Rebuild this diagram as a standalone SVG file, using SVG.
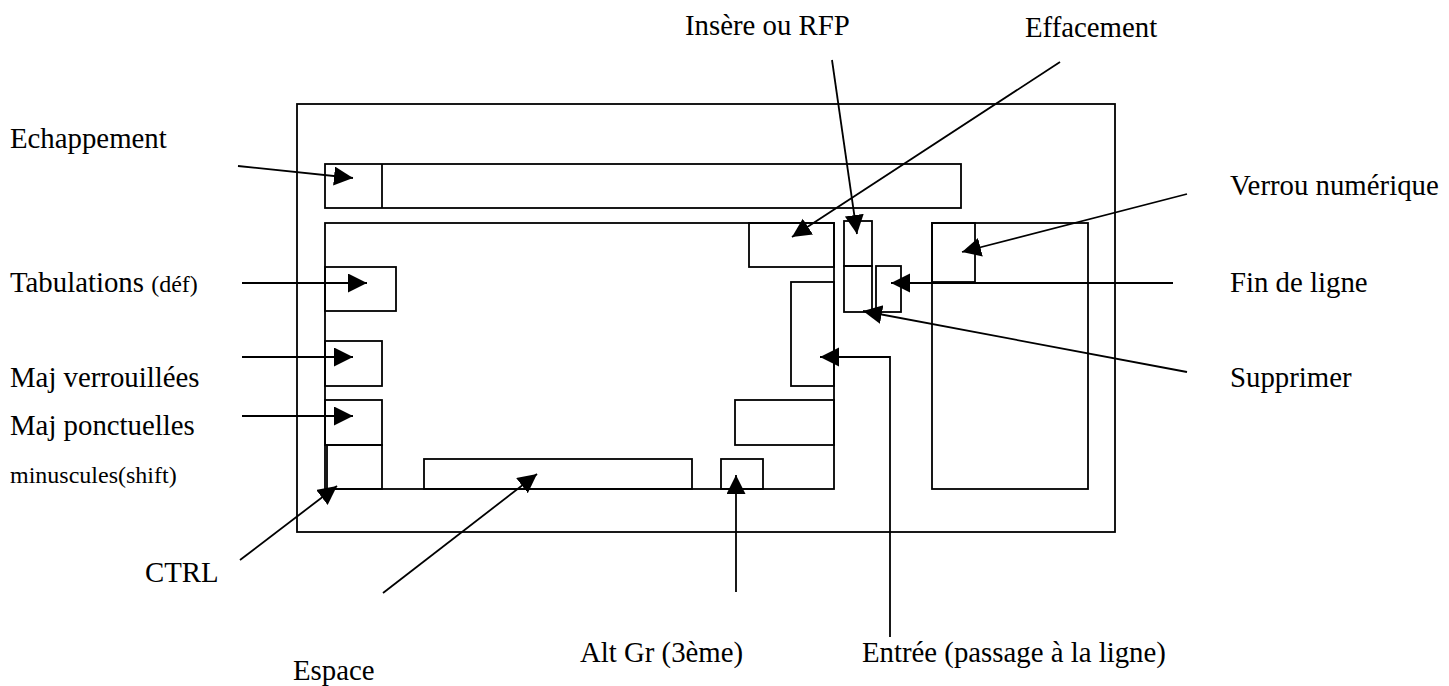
<svg xmlns="http://www.w3.org/2000/svg" width="1449" height="686" viewBox="0 0 1449 686">
<defs>
<marker id="ah" markerUnits="userSpaceOnUse" markerWidth="20" markerHeight="20" refX="19" refY="9.5" orient="auto">
<path d="M0,0 L19,9.5 L0,19 Z" fill="#000"/>
</marker>
<style>
.k{fill:none;stroke:#000;stroke-width:1.8}
.c{fill:none;stroke:#000;stroke-width:1.8;marker-end:url(#ah)}
.t{font-family:"Liberation Serif","Times New Roman",serif;font-size:28.8px;fill:#000}
.s{font-size:24px}
</style>
</defs>
<rect width="1449" height="686" fill="#fff"/>
<g id="keyboard">
<rect class="k" x="297" y="104" width="818" height="428"/>
</g>
<g id="function-row">
<rect class="k" x="325" y="164" width="636" height="44"/>
<line class="k" x1="382" y1="164" x2="382" y2="208"/>
</g>
<g id="main-block"><rect class="k" x="325" y="223" width="509" height="266"/></g>
<g id="key-tab"><rect class="k" x="325" y="267" width="71" height="44"/></g>
<g id="key-capslock"><rect class="k" x="325" y="341" width="57" height="45"/></g>
<g id="key-shift"><rect class="k" x="325" y="400" width="57" height="45"/></g>
<g id="key-ctrl"><rect class="k" x="327" y="445" width="55" height="44"/></g>
<g id="key-space"><rect class="k" x="424" y="459" width="268" height="30"/></g>
<g id="key-altgr"><rect class="k" x="721" y="459" width="42" height="30"/></g>
<g id="key-rshift"><rect class="k" x="735" y="400" width="99" height="45"/></g>
<g id="key-enter"><rect class="k" x="791" y="282" width="43" height="104"/></g>
<g id="key-backspace"><rect class="k" x="749" y="223" width="85" height="44"/></g>
<g id="key-insert"><rect class="k" x="844" y="221" width="28" height="45"/></g>
<g id="key-delete"><rect class="k" x="844" y="266" width="28" height="46"/></g>
<g id="key-end"><rect class="k" x="876" y="266" width="25" height="46"/></g>
<g id="numpad"><rect class="k" x="932" y="223" width="156" height="266"/></g>
<g id="key-numlock"><rect class="k" x="932" y="223" width="43" height="59"/></g>
<g id="connectors">
<line class="c" x1="238" y1="166" x2="353" y2="178"/>
<line class="c" x1="242" y1="283" x2="367" y2="283"/>
<line class="c" x1="242" y1="357" x2="353" y2="357"/>
<line class="c" x1="242" y1="416" x2="353" y2="416"/>
<line class="c" x1="240" y1="560" x2="337" y2="486"/>
<line class="c" x1="383" y1="593" x2="537" y2="474"/>
<line class="c" x1="736" y1="592" x2="736" y2="475"/>
<polyline class="c" points="890,637 890,357 820,357"/>
<line class="c" x1="1060" y1="62" x2="792" y2="237"/>
<line class="c" x1="832" y1="60" x2="857" y2="234"/>
<line class="c" x1="1187" y1="194" x2="962" y2="252"/>
<line class="c" x1="1173" y1="283" x2="891" y2="283"/>
<line class="c" x1="1187" y1="372" x2="863" y2="311"/>
</g>
<g id="labels">
<text class="t" x="10" y="148">Echappement</text>
<text class="t" x="10" y="292">Tabulations <tspan class="s">(déf)</tspan></text>
<text class="t" x="10" y="387">Maj verrouillées</text>
<text class="t" x="10" y="435">Maj ponctuelles</text>
<text class="t s" x="10" y="483">minuscules(shift)</text>
<text class="t" x="145" y="582">CTRL</text>
<text class="t" x="293" y="680">Espace</text>
<text class="t" x="580" y="662">Alt Gr (3ème)</text>
<text class="t" x="862" y="662">Entrée (passage à la ligne)</text>
<text class="t" x="685" y="35">Insère ou RFP</text>
<text class="t" x="1025" y="37">Effacement</text>
<text class="t" x="1230" y="195">Verrou numérique</text>
<text class="t" x="1230" y="292">Fin de ligne</text>
<text class="t" x="1230" y="387">Supprimer</text>
</g>
</svg>
